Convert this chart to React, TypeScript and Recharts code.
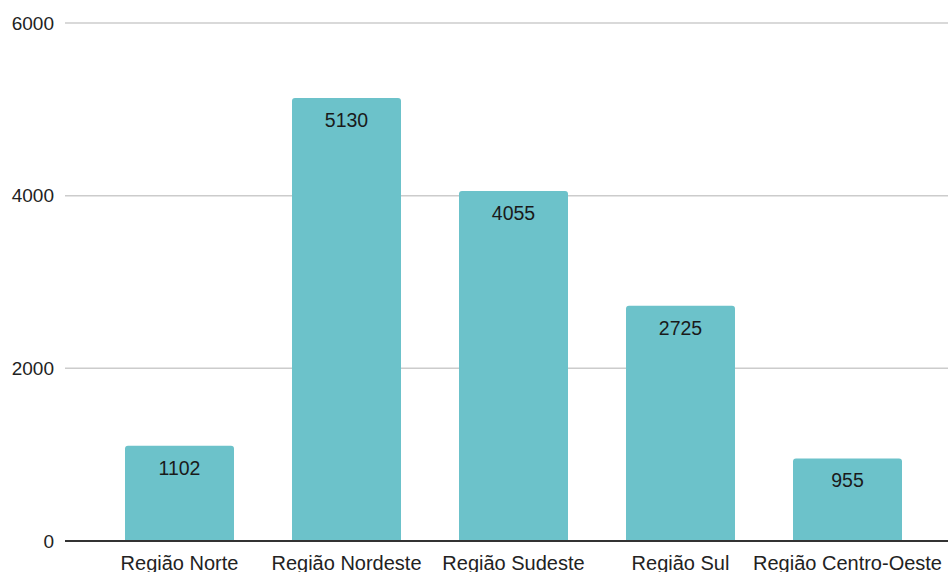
import React from "react";
import { BarChart, Bar, XAxis, YAxis, CartesianGrid, LabelList } from "recharts";

const categories = ["Região Norte", "Região Nordeste", "Região Sudeste", "Região Sul", "Região Centro-Oeste"];
const values = [1102, 5130, 4055, 2725, 955];
const yTicks = [0, 2000, 4000, 6000];

const data = categories.map((name, i) => ({ name, value: values[i] }));
const FONT = "Arial, 'Liberation Sans', sans-serif";

export default function App() {
  return (
    <div style={{ position: "fixed", left: 0, top: 0, background: "#fff" }}>
      <BarChart
        width={948}
        height={572}
        data={data}
        margin={{ top: 23, right: 0, bottom: 0, left: 0 }}
      >
        <CartesianGrid vertical={false} stroke="#cccccc" strokeWidth={1.5} />
        <XAxis
          dataKey="name"
          padding={{ left: 31, right: 17 }}
          tickLine={false}
          axisLine={{ stroke: "#333333", strokeWidth: 2 }}
          tick={{ fill: "#222222", fontSize: 20, fontFamily: FONT }}
          tickSize={0}
          tickMargin={15}
          height={31}
          interval={0}
        />
        <YAxis
          domain={[0, 6000]}
          ticks={yTicks}
          axisLine={false}
          tickLine={false}
          tickSize={0}
          tickMargin={11}
          width={65}
          tick={{ fill: "#222222", fontSize: 19, fontFamily: FONT }}
        />
        <Bar dataKey="value" fill="#6cc2ca" barSize={109} radius={[3, 3, 0, 0]} isAnimationActive={false}>
          <LabelList
            dataKey="value"
            position="insideTop"
            offset={15}
            fill="#1a1a1a"
            fontSize={19.5}
            fontFamily={FONT}
          />
        </Bar>
      </BarChart>
    </div>
  );
}
